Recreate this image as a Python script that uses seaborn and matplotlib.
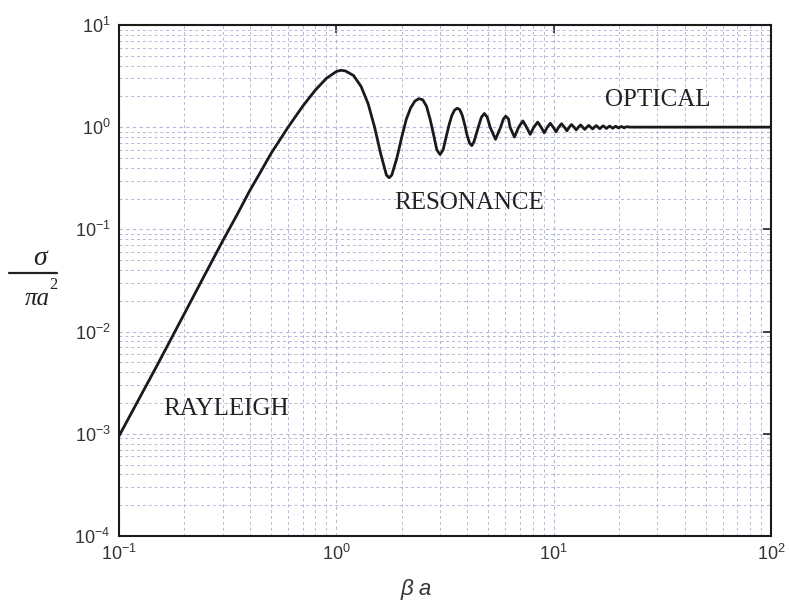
import numpy as np
import pandas as pd
import matplotlib
matplotlib.use("Agg")
import matplotlib.pyplot as plt
import seaborn as sns
from matplotlib.ticker import LogLocator, FuncFormatter, NullFormatter

# ---- data ----
ka = [0.1, 0.15, 0.2, 0.25, 0.3, 0.35, 0.4, 0.45, 0.5, 0.6, 0.7, 0.8, 0.9, 1.0, 1.05,
      1.1, 1.2, 1.3, 1.4, 1.5, 1.6, 1.7, 1.75, 1.8, 1.9, 2.0, 2.1, 2.2, 2.3, 2.4, 2.5,
      2.6, 2.7, 2.8, 2.9, 3.0, 3.1, 3.2, 3.3, 3.4, 3.5, 3.6, 3.7, 3.8, 3.9, 4.0, 4.1,
      4.2, 4.3, 4.5, 4.65, 4.8, 4.95, 5.1, 5.4, 5.7, 5.87, 6.02, 6.2, 6.3, 6.6, 6.9,
      7.22, 7.5, 7.8, 8.1, 8.45, 8.75, 9.05, 9.35, 9.65, 9.95, 10.25, 10.55, 10.87,
      11.2, 11.5, 11.8, 12.08, 12.4, 12.7, 13.0, 13.3, 13.6, 13.9, 14.2, 14.5, 14.8,
      15.1, 15.4, 15.7, 16.0, 16.3, 16.6, 16.9, 17.2, 17.5, 17.8, 18.1, 18.4, 18.7,
      19.0, 19.3, 19.6, 19.9, 20.2, 20.5, 20.8, 21.1, 21.4, 21.7, 22.5, 25.0, 40.0,
      100.0]
rcs = [0.00095, 0.0047, 0.015, 0.037, 0.077, 0.14, 0.24, 0.37, 0.55, 1.0, 1.6, 2.3,
       3.0, 3.5, 3.6, 3.55, 3.2, 2.5, 1.7, 1.0, 0.55, 0.34, 0.32, 0.34, 0.5, 0.8, 1.2,
       1.55, 1.8, 1.9, 1.85, 1.6, 1.2, 0.85, 0.6, 0.54, 0.6, 0.8, 1.05, 1.3, 1.47,
       1.53, 1.48, 1.3, 1.05, 0.83, 0.7, 0.66, 0.72, 1.0, 1.25, 1.36, 1.25, 1.0,
       0.76, 1.0, 1.2, 1.28, 1.2, 1.0, 0.8, 1.0, 1.15, 1.0, 0.85, 1.0, 1.12, 1.0,
       0.88, 1.0, 1.09, 1.0, 0.9, 1.0, 1.08, 1.0, 0.92, 1.0, 1.06, 1.0, 0.94, 1.0,
       1.05, 1.0, 0.95, 1.0, 1.04, 1.0, 0.96, 1.0, 1.035, 1.0, 0.965, 1.0, 1.03, 1.0,
       0.97, 1.0, 1.025, 1.0, 0.975, 1.0, 1.02, 1.0, 0.98, 1.0, 1.015, 1.0, 0.985,
       1.0, 1.01, 1.0, 1.0, 1.0, 1.0]

region_labels = ["RAYLEIGH", "RESONANCE", "OPTICAL"]
region_x = [0.16, 1.85, 17.2]
region_y = [1.76e-3, 0.18, 1.84]

df = pd.DataFrame({"ka": ka, "rcs": rcs})

sns.set_style("white")
plt.rcParams["font.family"] = ["Liberation Sans", "DejaVu Sans"]
fig = plt.figure(figsize=(7.89, 6.02), dpi=100)
ax = fig.add_axes([0.1508, 0.1096, 0.8264, 0.849])

sns.lineplot(data=df, x="ka", y="rcs", ax=ax, color="#1a1a1a", lw=2.0,
             estimator=None, sort=False)
ax.set_xscale("log")
ax.set_yscale("log")
ax.set_xlim(0.1, 100)
ax.set_ylim(1e-4, 10)

gcol = "#b4b8d8"
ax.grid(True, which="major", color=gcol, ls=(0, (3, 3)), lw=0.8)
ax.grid(True, which="minor", color=gcol, ls=(0, (3, 3)), lw=0.7)
ax.xaxis.set_major_locator(LogLocator(base=10, numticks=10))
ax.yaxis.set_major_locator(LogLocator(base=10, numticks=10))
ax.xaxis.set_minor_locator(LogLocator(base=10, subs=np.arange(2, 10), numticks=20))
ax.yaxis.set_minor_locator(LogLocator(base=10, subs=np.arange(2, 10), numticks=20))
ax.xaxis.set_minor_formatter(NullFormatter())
ax.yaxis.set_minor_formatter(NullFormatter())

fmt = FuncFormatter(lambda v, p: r"$\mathregular{10^{%d}}$" % int(round(np.log10(v))))
ax.xaxis.set_major_formatter(fmt)
ax.yaxis.set_major_formatter(fmt)
ax.tick_params(which="major", direction="in", length=6, width=1.2, colors="#222222",
               labelsize=13, top=True, right=True, pad=6)
ax.tick_params(which="minor", length=0)
for lab in ax.get_xticklabels() + ax.get_yticklabels():
    lab.set_color("#333333")
for s in ax.spines.values():
    s.set_color("#1a1a1a")
    s.set_linewidth(1.5)

for t, x, y in zip(region_labels, region_x, region_y):
    ax.text(x, y, t, fontsize=18, family="Liberation Serif", color="#222222",
            va="center", ha="left")

ax.set_xlabel("")
ax.set_ylabel("")
fig.text(0.528, 0.02, "β a", fontsize=16, color="#333333", ha="center",
         va="center", family="Liberation Sans", style="italic")
fig.text(0.051, 0.570, "σ", fontsize=20, ha="center", va="center",
         color="#222222", family="Liberation Serif", style="italic")
fig.add_artist(plt.Line2D([0.012, 0.072], [0.5465, 0.5465], color="#222222", lw=1.6,
                          transform=fig.transFigure))
fig.text(0.047, 0.503, "πa", fontsize=18, ha="center", va="center",
         color="#222222", family="Liberation Serif", style="italic")
fig.text(0.068, 0.527, "2", fontsize=12, ha="center", va="center",
         color="#222222", family="Liberation Serif")

fig.savefig("out.png", dpi=100)
